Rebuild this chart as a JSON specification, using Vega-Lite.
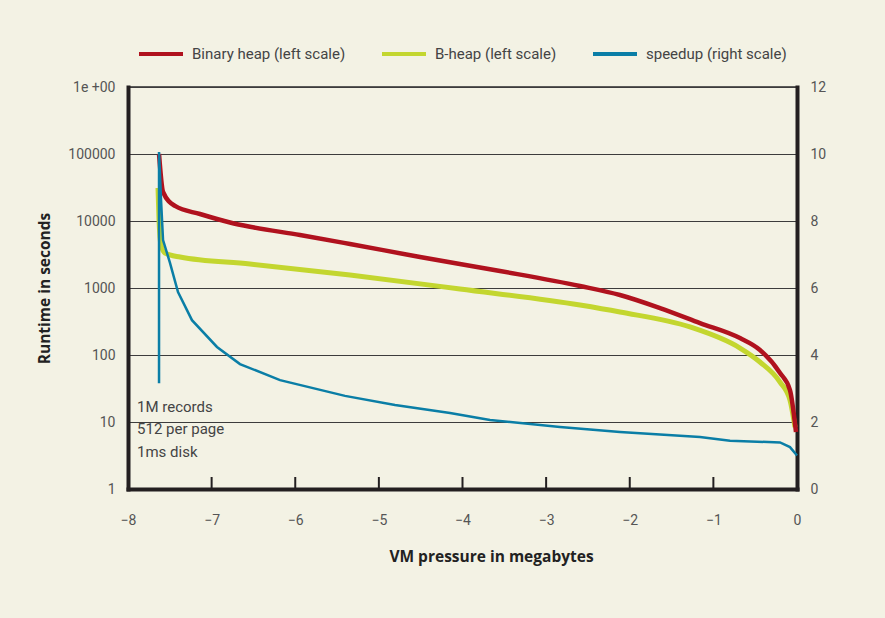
{
  "$schema": "https://vega.github.io/schema/vega-lite/v6.json",
  "width": 669,
  "height": 402,
  "autosize": "none",
  "padding": {"left": 128, "top": 87, "right": 88, "bottom": 129},
  "background": "#f3f2e4",
  "config": {
    "font": "Roboto",
    "view": {"stroke": "#2b2b2b", "strokeWidth": 1.5},
    "axis": {"labelFont": "Roboto", "labelFontSize": 14, "labelColor": "#555555", "titleFont": "Open Sans", "titleFontSize": 15.5, "titleFontWeight": "bold", "titleColor": "#222222", "domainColor": "#231f20", "domainWidth": 4, "domainCap": "square", "labelFlush": false}
  },
  "datasets": {
    "curves": [
      {"series": "Binary heap (left scale)", "x": -7.629, "y": 100000},
      {"series": "Binary heap (left scale)", "x": -7.581, "y": 27100},
      {"series": "Binary heap (left scale)", "x": -7.438, "y": 16760},
      {"series": "Binary heap (left scale)", "x": -7.139, "y": 12720},
      {"series": "Binary heap (left scale)", "x": -6.780, "y": 9500},
      {"series": "Binary heap (left scale)", "x": -6.541, "y": 8200},
      {"series": "Binary heap (left scale)", "x": -5.943, "y": 6180},
      {"series": "Binary heap (left scale)", "x": -5.345, "y": 4540},
      {"series": "Binary heap (left scale)", "x": -4.508, "y": 2900},
      {"series": "Binary heap (left scale)", "x": -3.552, "y": 1795},
      {"series": "Binary heap (left scale)", "x": -2.595, "y": 1072},
      {"series": "Binary heap (left scale)", "x": -2.117, "y": 787},
      {"series": "Binary heap (left scale)", "x": -1.638, "y": 502},
      {"series": "Binary heap (left scale)", "x": -1.160, "y": 300},
      {"series": "Binary heap (left scale)", "x": -0.682, "y": 179},
      {"series": "Binary heap (left scale)", "x": -0.443, "y": 119},
      {"series": "Binary heap (left scale)", "x": -0.203, "y": 54},
      {"series": "Binary heap (left scale)", "x": -0.084, "y": 30},
      {"series": "Binary heap (left scale)", "x": -0.012, "y": 7.1},
      {"series": "B-heap (left scale)", "x": -7.641, "y": 31100},
      {"series": "B-heap (left scale)", "x": -7.629, "y": 10350},
      {"series": "B-heap (left scale)", "x": -7.605, "y": 4380},
      {"series": "B-heap (left scale)", "x": -7.558, "y": 3330},
      {"series": "B-heap (left scale)", "x": -7.378, "y": 2900},
      {"series": "B-heap (left scale)", "x": -6.541, "y": 2280},
      {"series": "B-heap (left scale)", "x": -5.345, "y": 1563},
      {"series": "B-heap (left scale)", "x": -4.030, "y": 966},
      {"series": "B-heap (left scale)", "x": -2.595, "y": 557},
      {"series": "B-heap (left scale)", "x": -2.117, "y": 438},
      {"series": "B-heap (left scale)", "x": -1.280, "y": 262},
      {"series": "B-heap (left scale)", "x": -0.682, "y": 127},
      {"series": "B-heap (left scale)", "x": -0.443, "y": 78.6},
      {"series": "B-heap (left scale)", "x": -0.203, "y": 39.5},
      {"series": "B-heap (left scale)", "x": -0.084, "y": 21.3},
      {"series": "B-heap (left scale)", "x": -0.024, "y": 8.4}
    ],
    "speedup": [
      {"series": "speedup (right scale)", "order": 0, "x": -7.629, "y": 3.16},
      {"series": "speedup (right scale)", "order": 1, "x": -7.629, "y": 10.06},
      {"series": "speedup (right scale)", "order": 2, "x": -7.605, "y": 8.63},
      {"series": "speedup (right scale)", "order": 3, "x": -7.581, "y": 7.43},
      {"series": "speedup (right scale)", "order": 4, "x": -7.498, "y": 6.75},
      {"series": "speedup (right scale)", "order": 5, "x": -7.402, "y": 5.88},
      {"series": "speedup (right scale)", "order": 6, "x": -7.235, "y": 5.04},
      {"series": "speedup (right scale)", "order": 7, "x": -6.936, "y": 4.24},
      {"series": "speedup (right scale)", "order": 8, "x": -6.661, "y": 3.73},
      {"series": "speedup (right scale)", "order": 9, "x": -6.182, "y": 3.25},
      {"series": "speedup (right scale)", "order": 10, "x": -5.405, "y": 2.78},
      {"series": "speedup (right scale)", "order": 11, "x": -4.807, "y": 2.51},
      {"series": "speedup (right scale)", "order": 12, "x": -4.149, "y": 2.27},
      {"series": "speedup (right scale)", "order": 13, "x": -3.671, "y": 2.06},
      {"series": "speedup (right scale)", "order": 14, "x": -2.834, "y": 1.85},
      {"series": "speedup (right scale)", "order": 15, "x": -2.117, "y": 1.70},
      {"series": "speedup (right scale)", "order": 16, "x": -1.160, "y": 1.55},
      {"series": "speedup (right scale)", "order": 17, "x": -0.801, "y": 1.44},
      {"series": "speedup (right scale)", "order": 18, "x": -0.203, "y": 1.39},
      {"series": "speedup (right scale)", "order": 19, "x": -0.084, "y": 1.25},
      {"series": "speedup (right scale)", "order": 20, "x": 0, "y": 1.0}
    ],
    "notes": [
      {"x": -7.892, "y": 16.7, "label": "1M records"},
      {"x": -7.892, "y": 7.86, "label": "512 per page"},
      {"x": -7.892, "y": 3.57, "label": "1ms disk"}
    ],
    "ticks": [
      {"x": -7, "y": 1, "y2": 1.51},
      {"x": -6, "y": 1, "y2": 1.51},
      {"x": -5, "y": 1, "y2": 1.51},
      {"x": -4, "y": 1, "y2": 1.51},
      {"x": -3, "y": 1, "y2": 1.51},
      {"x": -2, "y": 1, "y2": 1.51},
      {"x": -1, "y": 1, "y2": 1.51}
    ]
  },
  "resolve": {"scale": {"y": "independent"}},
  "layer": [
    {
      "layer": [
        {
          "data": {"name": "curves"},
          "transform": [{"filter": "datum.series === 'B-heap (left scale)'"}],
          "mark": {"type": "line", "strokeWidth": 5, "interpolate": "monotone"},
          "encoding": {
            "x": {"field": "x", "type": "quantitative", "scale": {"domain": [-8, 0], "nice": false},
              "axis": {"values": [-8, -7, -6, -5, -4, -3, -2, -1, 0], "format": "d", "ticks": false, "labelPadding": 24, "grid": false, "title": "VM pressure in megabytes", "titleX": 363, "titleY": 67, "titleAlign": "center", "titleBaseline": "middle"}},
            "y": {"field": "y", "type": "quantitative", "scale": {"type": "log", "domain": [1, 1000000], "nice": false},
              "axis": {"orient": "left", "values": [1, 10, 100, 1000, 10000, 100000, 1000000], "labelExpr": "datum.value >= 1000000 ? '1e +00' : format(datum.value, 'd')", "ticks": false, "grid": true, "gridColor": "#3c3c3c", "gridWidth": 1, "labelPadding": 13, "title": "Runtime in seconds", "titleX": -84, "titleY": 201, "titleAngle": -90, "titleAlign": "center", "titleBaseline": "middle"}},
            "color": {"field": "series", "type": "nominal",
              "scale": {"domain": ["Binary heap (left scale)", "B-heap (left scale)", "speedup (right scale)"], "range": ["#b0121e", "#c3d62f", "#0a7ea6"]},
              "legend": {"orient": "none", "legendX": 9, "legendY": -57, "direction": "horizontal", "title": null, "symbolType": "stroke", "symbolSize": 1936, "symbolStrokeWidth": 4, "labelFontSize": 15, "labelFont": "Roboto", "labelColor": "#444444", "labelOffset": 7, "labelLimit": 400, "columnPadding": 28, "padding": 0}}
          }
        },
        {
          "data": {"name": "curves"},
          "transform": [{"filter": "datum.series === 'Binary heap (left scale)'"}],
          "mark": {"type": "line", "strokeWidth": 4.5, "interpolate": "monotone"},
          "encoding": {
            "x": {"field": "x", "type": "quantitative"},
            "y": {"field": "y", "type": "quantitative"},
            "color": {"field": "series", "type": "nominal"}
          }
        },
        {
          "data": {"name": "notes"},
          "mark": {"type": "text", "align": "left", "baseline": "middle", "fontSize": 15, "font": "Roboto", "color": "#444444"},
          "encoding": {
            "x": {"field": "x", "type": "quantitative"},
            "y": {"field": "y", "type": "quantitative"},
            "text": {"field": "label"}
          }
        },
        {
          "data": {"name": "ticks"},
          "mark": {"type": "rule", "strokeWidth": 2, "color": "#231f20"},
          "encoding": {
            "x": {"field": "x", "type": "quantitative"},
            "y": {"field": "y", "type": "quantitative"},
            "y2": {"field": "y2"}
          }
        }
      ]
    },
    {
      "data": {"name": "speedup"},
      "mark": {"type": "line", "strokeWidth": 2.5, "interpolate": "linear"},
      "encoding": {
        "x": {"field": "x", "type": "quantitative"},
        "y": {"field": "y", "type": "quantitative", "scale": {"domain": [0, 12], "nice": false},
          "axis": {"orient": "right", "values": [0, 2, 4, 6, 8, 10, 12], "ticks": false, "grid": false, "labelPadding": 13, "title": null}},
        "color": {"field": "series", "type": "nominal"},
        "order": {"field": "order", "type": "quantitative"}
      }
    }
  ]
}
